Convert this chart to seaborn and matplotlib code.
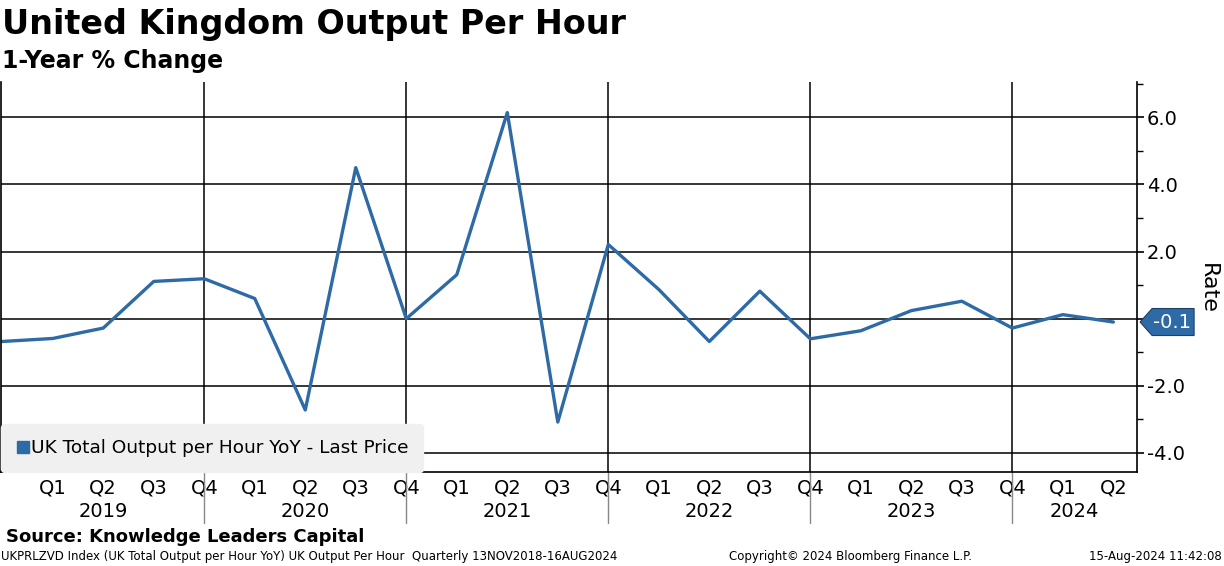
import pandas as pd
import matplotlib.pyplot as plt
import matplotlib.transforms as mtransforms
from matplotlib.lines import Line2D
from matplotlib.patches import Polygon
import seaborn as sns

# ----------------------
# Data
# ----------------------
quarters = ['Q4', 'Q1', 'Q2', 'Q3', 'Q4', 'Q1', 'Q2', 'Q3', 'Q4', 'Q1', 'Q2', 'Q3',
            'Q4', 'Q1', 'Q2', 'Q3', 'Q4', 'Q1', 'Q2', 'Q3', 'Q4', 'Q1', 'Q2']
years = [2018, 2019, 2019, 2019, 2019, 2020, 2020, 2020, 2020, 2021, 2021, 2021,
         2021, 2022, 2022, 2022, 2022, 2023, 2023, 2023, 2023, 2024, 2024]
yoy = [-0.68, -0.59, -0.28, 1.11, 1.19, 0.60, -2.72, 4.50, 0.00, 1.31, 6.14, -3.08,
       2.21, 0.87, -0.68, 0.82, -0.60, -0.36, 0.24, 0.52, -0.28, 0.12, -0.10]
year_labels = ['2019', '2020', '2021', '2022', '2023', '2024']
y_ticks = [-4, -2, 0, 2, 4, 6]

LINE_COLOR = '#2d6aa6'

df = pd.DataFrame({'quarter': quarters, 'year': years, 'yoy': yoy})
df['idx'] = range(len(df))

sns.set_style('white')
plt.rcParams['font.family'] = ['DejaVu Sans']
plt.rcParams['text.color'] = 'black'
plt.rcParams['xtick.color'] = 'black'
plt.rcParams['ytick.color'] = 'black'

fig = plt.figure(figsize=(12.24, 5.66), dpi=100)
ax = fig.add_axes([0.001, 0.166, 0.928, 0.689])

sns.lineplot(data=df, x='idx', y='yoy', ax=ax, color=LINE_COLOR, linewidth=2.4,
             legend=False)

# axes limits
ax.set_xlim(-0.02, 22.47)
ax.set_ylim(-4.57, 7.05)

# right-hand y axis (0.0 label is hidden behind the last-value tag)
ax.yaxis.tick_right()
ax.set_yticks(y_ticks)
ax.set_yticklabels(['' if v == 0 else f'{v:.1f}' for v in y_ticks], fontsize=14)
ax.set_yticks([-3, -1, 1, 3, 5, 7], minor=True)
ax.tick_params(axis='y', which='major', direction='out', length=5, width=1.2, pad=2)
ax.tick_params(axis='y', which='minor', direction='out', length=4, width=1)
ax.set_ylabel('')
fig.text(0.987, 0.49, 'Rate', rotation=270, fontsize=16, ha='center', va='center')

# quarter ticks on the x axis
q_idx = df['idx'][1:].tolist()
ax.set_xticks(q_idx)
ax.set_xticklabels(df['quarter'][1:], fontsize=14)
ax.tick_params(axis='x', direction='out', length=4, width=1, pad=1)
ax.set_xlabel('')

# grid lines: horizontal at majors, vertical at year boundaries (Q4)
for v in y_ticks:
    ax.axhline(v, color='black', linewidth=1.1, zorder=0)
boundaries = df.loc[(df['quarter'] == 'Q4') & (df['idx'] > 0), 'idx'].tolist()
for b in boundaries:
    ax.axvline(b, color='black', linewidth=1.1, zorder=0)

ax.spines['top'].set_visible(False)
for side in ['left', 'right', 'bottom']:
    ax.spines[side].set_color('black')
    ax.spines[side].set_linewidth(1.2)

# year labels + separators below the axis
trans = mtransforms.blended_transform_factory(ax.transData, ax.transAxes)
edges = [0] + boundaries + [ax.get_xlim()[1]]
for i, lab in enumerate(year_labels):
    mid = (edges[i] + edges[i + 1]) / 2
    ax.text(mid, -0.1, lab, transform=trans, ha='center', va='center', fontsize=14)
for b in boundaries:
    ax.plot([b, b], [0, -0.13], transform=trans, color='#888888', linewidth=1,
            clip_on=False)

# legend
handle = Line2D([], [], marker='s', linestyle='none', color=LINE_COLOR, markersize=9)
leg = ax.legend([handle], ['UK Total Output per Hour YoY - Last Price'],
                loc='lower left', bbox_to_anchor=(0, 0), fontsize=13.3,
                frameon=True, fancybox=True, handletextpad=0.0, handlelength=0.8,
                borderpad=0.8, borderaxespad=0.0)
leg.get_frame().set_facecolor('#f0f0f0')
leg.get_frame().set_edgecolor('#f0f0f0')
leg.get_frame().set_alpha(1)

# last value tag (pentagon pointing at the axis)
last_val = df['yoy'].iloc[-1]
last_trans = mtransforms.blended_transform_factory(ax.transAxes, ax.transData)
ax_px, ay_px = last_trans.transform((1.0, last_val))
tag_shape = [(3, 0), (15, 13.5), (57, 13.5), (57, -13.5), (15, -13.5)]
tag = Polygon(tag_shape, closed=True, facecolor=LINE_COLOR, edgecolor='#1c3f66',
              linewidth=0.8, transform=mtransforms.Affine2D().translate(ax_px, ay_px),
              clip_on=False, zorder=5)
fig.patches.append(tag)
fig.text((ax_px + 35) / fig.bbox.width, ay_px / fig.bbox.height, f'{last_val:.1f}',
         ha='center', va='center', fontsize=14, color='white', zorder=6)

# titles
fig.text(0.002, 0.956, 'United Kingdom Output Per Hour', fontsize=24,
         fontweight='bold', ha='left', va='center')
fig.text(0.002, 0.893, '1-Year % Change', fontsize=17, fontweight='bold',
         ha='left', va='center')

# footer
fig.text(0.005, 0.051, 'Source: Knowledge Leaders Capital', fontsize=13,
         fontweight='bold', ha='left', va='center')
fig.text(0.001, 0.016, 'UKPRLZVD Index (UK Total Output per Hour YoY) UK Output Per Hour  '
         'Quarterly 13NOV2018-16AUG2024', fontsize=8.5, ha='left', va='center')
fig.text(0.695, 0.016, 'Copyright\u00a9 2024 Bloomberg Finance L.P.', fontsize=8.5,
         ha='center', va='center')
fig.text(0.998, 0.016, '15-Aug-2024 11:42:08', fontsize=8.5, ha='right', va='center')

fig.savefig('out.png', dpi=100)
plt.close(fig)
